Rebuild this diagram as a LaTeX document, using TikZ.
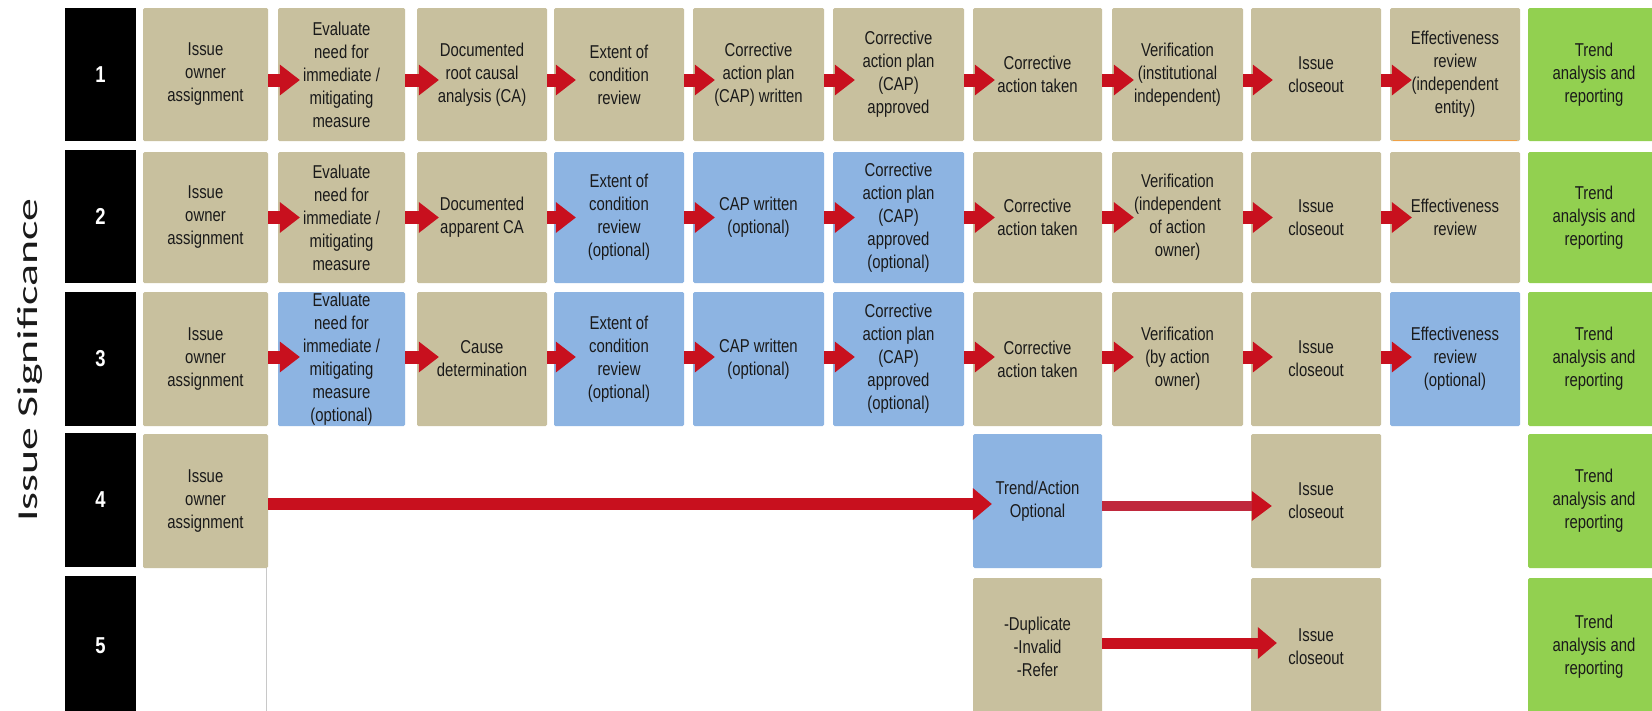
\documentclass[tikz,border=0pt]{standalone}
\usepackage{fontspec}
\setmainfont{Liberation Sans}[FakeStretch=0.8]
\newfontfamily\sigfont{Carlito}
\usetikzlibrary{arrows.meta}
\definecolor{boxtan}{HTML}{C8C09E}
\definecolor{boxblue}{HTML}{8DB4E2}
\definecolor{boxgreen}{HTML}{92D050}
\definecolor{arrred}{HTML}{C8101E}
\definecolor{arrpink}{HTML}{C0283C}
\definecolor{txtdark}{HTML}{1A1A1A}
\definecolor{edgeorange}{HTML}{F0A046}
\definecolor{thingray}{HTML}{C8C8C8}
\def\XL{{0,143,278,417,554,693,833,973,1112,1251,1390,1528}}
\def\XR{{0,268,405,547,684,824,964,1102,1243,1381,1520,1660}}
\def\YT{{0,8,152,292,434,578}}
\def\YB{{0,141,283,426,568,715}}
\tikzset{
  box/.style={rectangle, rounded corners=1.5pt, inner sep=0pt, draw=none},
  lbl/.style={inner sep=0pt, align=center, text=txtdark, font=\fontsize{18.6}{23}\selectfont},
  numbox/.style={rectangle, fill=black, inner sep=0pt, text=white, font=\fontsize{23}{27}\selectfont\bfseries},
  smallarr/.style={draw=arrred, line width=13pt, -{Triangle[length=20pt,width=31pt,line width=0pt]}},
  bigarr/.style={draw=arrred, line width=12pt, -{Triangle[length=19pt,width=32pt,line width=0pt]}},
  bigarrb/.style={draw=arrpink, line width=10pt, -{Triangle[length=20pt,width=30pt,line width=0pt,color=arrred]}},
}
\newcommand\mkcell[4]{%
  \pgfmathsetmacro\xa{\XL[#2]}\pgfmathsetmacro\xb{\XR[#2]}%
  \pgfmathsetmacro\ya{\YT[#1]}\pgfmathsetmacro\yb{\YB[#1]}%
  \node[box, fill=#3, minimum width={(\xb-\xa)*1pt}, minimum height={(\yb-\ya)*1pt}] (n#1-#2) at ({(\xa+\xb)/2},{(\ya+\yb)/2}) {};
  \node[lbl] at (n#1-#2.center) {#4};}
\begin{document}
\begin{tikzpicture}[x=1pt,y=-1pt]
\fill[white] (0,0) rectangle (1652,710);
\useasboundingbox (0,0) rectangle (1652,710);
% row labels
\node[numbox, minimum width=71pt, minimum height=133pt] (k1) at (100.5,74.5) {1};
\node[numbox, minimum width=71pt, minimum height=133pt] (k2) at (100.5,216.5) {2};
\node[numbox, minimum width=71pt, minimum height=134pt] (k3) at (100.5,359) {3};
\node[numbox, minimum width=71pt, minimum height=134pt] (k4) at (100.5,500) {4};
\node[numbox, minimum width=71pt, minimum height=139pt] (k5) at (100.5,645.5) {5};
\node[rotate=90, inner sep=0pt, text=txtdark, font=\sigfont\fontsize{40}{46}\selectfont] (sig) at (30,360) {\scalebox{1.145}[0.72]{Issue Significance}};
% row 1
\mkcell{1}{1}{boxtan}{Issue\\owner\\assignment}
\mkcell{1}{2}{boxtan}{Evaluate\\need for\\immediate /\\mitigating\\measure}
\mkcell{1}{3}{boxtan}{Documented\\root causal\\analysis  (CA)}
\mkcell{1}{4}{boxtan}{Extent of\\condition\\review}
\mkcell{1}{5}{boxtan}{Corrective\\action plan\\(CAP) written}
\mkcell{1}{6}{boxtan}{Corrective\\action plan\\(CAP)\\approved}
\mkcell{1}{7}{boxtan}{Corrective\\action taken}
\mkcell{1}{8}{boxtan}{Verification\\(institutional\\independent)}
\mkcell{1}{9}{boxtan}{Issue\\closeout}
\mkcell{1}{10}{boxtan}{Effectiveness\\review\\(independent\\entity)}
\mkcell{1}{11}{boxgreen}{Trend\\analysis and\\reporting}
% row 2
\mkcell{2}{1}{boxtan}{Issue\\owner\\assignment}
\mkcell{2}{2}{boxtan}{Evaluate\\need for\\immediate /\\mitigating\\measure}
\mkcell{2}{3}{boxtan}{Documented\\apparent CA}
\mkcell{2}{4}{boxblue}{Extent of\\condition\\review\\(optional)}
\mkcell{2}{5}{boxblue}{CAP written\\(optional)}
\mkcell{2}{6}{boxblue}{Corrective\\action plan\\(CAP)\\approved\\(optional)}
\mkcell{2}{7}{boxtan}{Corrective\\action taken}
\mkcell{2}{8}{boxtan}{Verification\\(independent\\of action\\owner)}
\mkcell{2}{9}{boxtan}{Issue\\closeout}
\mkcell{2}{10}{boxtan}{Effectiveness\\review}
\mkcell{2}{11}{boxgreen}{Trend\\analysis and\\reporting}
% row 3
\mkcell{3}{1}{boxtan}{Issue\\owner\\assignment}
\mkcell{3}{2}{boxblue}{Evaluate\\need for\\immediate /\\mitigating\\measure\\(optional)}
\mkcell{3}{3}{boxtan}{Cause\\determination}
\mkcell{3}{4}{boxblue}{Extent of\\condition\\review\\(optional)}
\mkcell{3}{5}{boxblue}{CAP written\\(optional)}
\mkcell{3}{6}{boxblue}{Corrective\\action plan\\(CAP)\\approved\\(optional)}
\mkcell{3}{7}{boxtan}{Corrective\\action taken}
\mkcell{3}{8}{boxtan}{Verification\\(by action\\owner)}
\mkcell{3}{9}{boxtan}{Issue\\closeout}
\mkcell{3}{10}{boxblue}{Effectiveness\\review\\(optional)}
\mkcell{3}{11}{boxgreen}{Trend\\analysis and\\reporting}
% row 4
\mkcell{4}{1}{boxtan}{Issue\\owner\\assignment}
\mkcell{4}{7}{boxblue}{Trend/Action\\Optional}
\mkcell{4}{9}{boxtan}{Issue\\closeout}
\mkcell{4}{11}{boxgreen}{Trend\\analysis and\\reporting}
% row 5
\mkcell{5}{7}{boxtan}{-Duplicate\\-Invalid\\-Refer}
\mkcell{5}{9}{boxtan}{Issue\\closeout}
\mkcell{5}{11}{boxgreen}{Trend\\analysis and\\reporting}
% details
\draw[edgeorange, line width=1.5pt] ([xshift=3pt,yshift=0.75pt]n1-10.south west) -- ([xshift=-3pt,yshift=0.75pt]n1-10.south east);
\draw[thingray, line width=1pt] ([xshift=-1.5pt]n4-1.south east) -- ++(0,145);
% arrows rows 1-3
\foreach \r/\dy in {1/-5.5,2/0,3/2}{
  \foreach \c [evaluate=\c as \n using int(\c+1)] in {1,...,9}{
    \draw[smallarr] ([yshift=\dy pt]n\r-\c.east) -- ([xshift=22pt,yshift=\dy pt]n\r-\n.west);
  }
}
% arrows rows 4-5
\draw[bigarr] ([yshift=-3pt]n4-1.east) -- ([xshift=19pt,yshift=-3pt]n4-7.west);
\draw[bigarrb] ([yshift=-5pt]n4-7.east) -- ([xshift=21pt,yshift=-5pt]n4-9.west);
\draw[bigarr, line width=11pt] ([yshift=3.5pt]n5-7.east) -- ([xshift=26pt,yshift=3.5pt]n5-9.west);
\end{tikzpicture}
\end{document}
